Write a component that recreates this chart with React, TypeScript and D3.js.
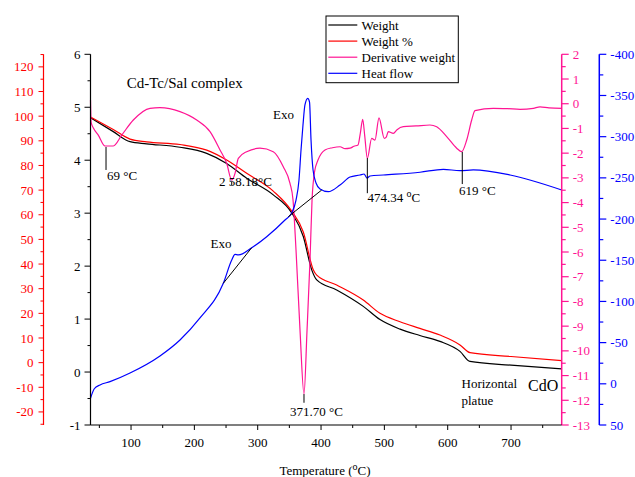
import React from 'react';
import * as d3 from 'd3';

// ---- data (temperature °C, value in its own axis units) ----
const weightData: [number, number][] = [
  [36, 4.8], [72, 4.54], [98.4, 4.35], [124.7, 4.31], [177.3, 4.245], [219.5, 4.13],
  [251, 3.94], [282.6, 3.66], [324.6, 3.345], [353.7, 3.005], [372, 2.56], [385.3, 1.93],
  [393.2, 1.74], [424.7, 1.55], [466.7, 1.24], [493.1, 0.99], [524.7, 0.81], [556, 0.69],
  [587.8, 0.58], [619.4, 0.39], [635.2, 0.2], [700, 0.13], [780, 0.06],
];
const weightPctData: [number, number][] = [
  [36, 99.7], [72, 94.6], [98.4, 90.7], [124.7, 89.6], [177.3, 88.5], [219.5, 86.2],
  [251, 82.2], [282.6, 76.8], [324.6, 69.6], [353.7, 61.5], [372, 53.0], [387.9, 37.6],
  [393.2, 35.5], [424.7, 31.5], [466.7, 25.4], [493.1, 20.0], [524.7, 16.6], [556, 13.9],
  [587.8, 11.2], [619.4, 7.2], [635.2, 4.05], [700, 2.5], [780, 0.8],
];
const derivData: [number, number][] = [
  [36, 0.15], [37, -0.75], [41, -1.0], [48.3, -1.27], [58.9, -1.71], [72, -1.71], [85.3, -1.27],
  [103.6, -0.66], [130, -0.185], [145.7, -0.16], [177.3, -0.32], [203.7, -0.66], [224.7, -1.13],
  [240.5, -1.87], [251, -2.41], [259, -3.09], [264.2, -2.82], [269.4, -2.21], [282.6, -1.94],
  [303.6, -1.8], [324.6, -1.94], [340.4, -2.55], [351, -3.22], [355.8, -3.9], [360.5, -5.92],
  [366.8, -9.16], [373.1, -11.75], [377.9, -9.16], [382.6, -6.32], [385.8, -3.9], [389.7, -2.76],
  [395.2, -2.28], [406.2, -1.87], [418, -1.78], [430, -1.74], [438, -1.82], [445.8, -1.8],
  [452, -1.72], [458.4, -1.67], [462, -1.2], [465.8, -0.63], [469, -1.3], [473.1, -2.21],
  [480, -1.4], [485.2, -1.47], [491.5, -0.57], [499.9, -1.4], [503, -1.35], [506.2, -1.13],
  [514.1, -1.2], [520, -1.05], [529.9, -0.93], [550, -0.9], [572, -0.86], [582.6, -0.93],
  [598.4, -1.33], [614.2, -1.8], [622.1, -1.94], [630, -1.47], [637.9, -0.66], [643.1, -0.28],
  [672, -0.185], [695, -0.2], [714.2, -0.225], [735.2, -0.185], [745.8, -0.13], [760, -0.17],
  [780, -0.185],
];
const heatData: [number, number][] = [
  [36, 17.6], [42, 6], [51, 1.4], [66.8, -2.6], [98.4, -13.1], [145.7, -33.8], [177.3, -53.2],
  [208.9, -79.9], [245.7, -122], [259, -150.3], [264.2, -157.2], [269.4, -156.4], [290.5, -165.2],
  [314.2, -178.6], [343.1, -198.9], [353.7, -207.4], [360.5, -223.1], [365.2, -247.4],
  [368.4, -283.8], [371.5, -314.2], [374.6, -338.5], [379, -346.6], [381.8, -342.1], [384.2, -296],
  [387.4, -259.6], [392.1, -243.8], [398.4, -236.5], [411.5, -233.2], [430, -241.3],
  [445.8, -251], [461.6, -253.5], [467.9, -254.7], [472.6, -249.8], [477.4, -252.3],
  [498.3, -253.5], [556.3, -256.8], [593.1, -260.4], [619.4, -258.7], [640.4, -259.6],
  [698.5, -253.5], [780, -235.3],
];
// onset tangents (in heat-flow units)
const tangentLines: [number, number][][] = [
  [[245.7, -122], [290.5, -165.2]],
  [[348.3, -202.9], [401.1, -235.3]],
];
// peak leader lines (derivative units)
const peakMarkers = [
  { t: 60.5, from: -1.75, to: -2.68 },
  { t: 259, from: -3.15, to: -3.3 },
  { t: 373.1, from: -11.75, to: -12.1 },
  { t: 473.1, from: -2.2, to: -3.62 },
  { t: 623, from: -1.95, to: -3.25 },
];

const xTicks = [100, 200, 300, 400, 500, 600, 700];
const weightTicks = [-1, 0, 1, 2, 3, 4, 5, 6];
const pctTicks = [-20, -10, 0, 10, 20, 30, 40, 50, 60, 70, 80, 90, 100, 110, 120];
const derivTicks = [2, 1, 0, -1, -2, -3, -4, -5, -6, -7, -8, -9, -10, -11, -12, -13];
const heatTicks = [-400, -350, -300, -250, -200, -150, -100, -50, 0, 50];
const legendLabels = ['Weight', 'Weight %', 'Derivative weight', 'Heat flow'];

const BLACK = '#000';
const RED = '#ff0000';
const PINK = '#ff1493';
const BLUE = '#0000ff';
const FONT = '"Liberation Serif", "Times New Roman", serif';

export default function App() {
  const left = 90.5, right = 561.7, top = 54.3, bottom = 425;
  const x = d3.scaleLinear().domain([36, 780]).range([left, right]);
  const yW = d3.scaleLinear().domain([-1, 6]).range([bottom, top]);
  const yR = d3.scaleLinear().domain([-25.3, 125.1]).range([bottom, top]);
  const yD = d3.scaleLinear().domain([-13, 2]).range([bottom, top]);
  const yH = d3.scaleLinear().domain([50, -400]).range([bottom, top]);

  const mk = (ys: d3.ScaleLinear<number, number>) =>
    d3.line<[number, number]>().x(d => x(d[0])).y(d => ys(d[1])).curve(d3.curveMonotoneX);

  const redX = 43.5, pinkX = right, blueX = 599.3;

  const xMinor = d3.range(50, 780, 50);
  const wMinor = d3.range(-1, 6.01, 0.5);
  const rMinor = d3.range(-25, 125.1, 5);
  const dMinor = d3.range(-13, 2.01, 0.5);
  const hMinor = d3.range(-400, 50.1, 25);

  const colors = [BLACK, RED, PINK, BLUE];

  return (
    <svg width={635} height={477} style={{ position: 'absolute', left: 0, top: 0, background: '#fff' }}
      fontFamily={FONT}>
      <rect width={635} height={477} fill="#fff" />

      {/* curves */}
      <path d={mk(yW)(weightData) || ''} fill="none" stroke={BLACK} strokeWidth={1.2} />
      <path d={mk(yR)(weightPctData) || ''} fill="none" stroke={RED} strokeWidth={1.2} />
      <path d={mk(yD)(derivData) || ''} fill="none" stroke={PINK} strokeWidth={1.2} />
      <path d={mk(yH)(heatData) || ''} fill="none" stroke={BLUE} strokeWidth={1.2} />

      {tangentLines.map((l, i) => (
        <line key={'tg' + i} x1={x(l[0][0])} y1={yH(l[0][1])} x2={x(l[1][0])} y2={yH(l[1][1])}
          stroke={BLACK} strokeWidth={1} />
      ))}
      {peakMarkers.map((m, i) => (
        <line key={'pm' + i} x1={x(m.t)} x2={x(m.t)} y1={yD(m.from)} y2={yD(m.to)} stroke={BLACK} strokeWidth={1} />
      ))}

      {/* black weight axis */}
      <line x1={left} x2={left} y1={top} y2={bottom} stroke={BLACK} strokeWidth={1.2} />
      {wMinor.map(v => (
        <line key={'wm' + v} x1={left} x2={left - (Number.isInteger(v) ? 6 : 3)} y1={yW(v)} y2={yW(v)} stroke={BLACK} />
      ))}
      {weightTicks.map(v => (
        <text key={'wt' + v} x={left - 10} y={yW(v)} dy="0.35em" textAnchor="end" fontSize={13} fill={BLACK}>{String(v)}</text>
      ))}

      {/* red weight % axis */}
      <line x1={redX} x2={redX} y1={top} y2={bottom} stroke={RED} strokeWidth={1.2} />
      {rMinor.map(v => (
        <line key={'rm' + v} x1={redX} x2={redX - (v % 10 === 0 ? 5 : 3)} y1={yR(v)} y2={yR(v)} stroke={RED} />
      ))}
      {pctTicks.map(v => (
        <text key={'rt' + v} x={redX - 10} y={yR(v)} dy="0.35em" textAnchor="end" fontSize={13} fill={RED}>{String(v)}</text>
      ))}

      {/* pink derivative axis */}
      <line x1={pinkX} x2={pinkX} y1={top} y2={bottom} stroke={PINK} strokeWidth={1.5} />
      {dMinor.map(v => (
        <line key={'dm' + v} x1={pinkX} x2={pinkX + (Number.isInteger(v) ? 7 : 4)} y1={yD(v)} y2={yD(v)} stroke={PINK} strokeWidth={1.2} />
      ))}
      {derivTicks.map(v => (
        <text key={'dt' + v} x={pinkX + 11} y={yD(v)} dy="0.35em" textAnchor="start" fontSize={13} fill={PINK}>{String(v)}</text>
      ))}

      {/* blue heat flow axis */}
      <line x1={blueX} x2={blueX} y1={top} y2={bottom} stroke={BLUE} strokeWidth={1.5} />
      {hMinor.map(v => (
        <line key={'hm' + v} x1={blueX} x2={blueX + (v % 50 === 0 ? 7 : 4)} y1={yH(v)} y2={yH(v)} stroke={BLUE} strokeWidth={1.2} />
      ))}
      {heatTicks.map(v => (
        <text key={'ht' + v} x={blueX + 11} y={yH(v)} dy="0.35em" textAnchor="start" fontSize={13} fill={BLUE}>{String(v)}</text>
      ))}

      {/* x axis */}
      <line x1={left} x2={right} y1={bottom} y2={bottom} stroke={BLACK} strokeWidth={1.2} />
      {xMinor.map(v => (
        <line key={'xm' + v} x1={x(v)} x2={x(v)} y1={bottom} y2={bottom + (v % 100 === 0 ? 5 : 3)} stroke={BLACK} />
      ))}
      {xTicks.map(v => (
        <text key={'xt' + v} x={x(v)} y={447} textAnchor="middle" fontSize={13} fill={BLACK}>{String(v)}</text>
      ))}
      <text x={325} y={475} textAnchor="middle" fontSize={13} fill={BLACK}>
        Temperature (<tspan fontSize={10} dy={-5}>o</tspan><tspan dy={5}>C)</tspan>
      </text>

      {/* annotations */}
      <text x={126.7} y={88} fontSize={15} fill={BLACK}>Cd-Tc/Sal complex</text>
      <text x={107} y={180} fontSize={13} fill={BLACK}>69 °C</text>
      <text x={219} y={186} fontSize={13} fill={BLACK}>2 58.18°C</text>
      <text x={273} y={119} fontSize={13} fill={BLACK}>Exo</text>
      <text x={210.5} y={248} fontSize={13} fill={BLACK}>Exo</text>
      <text x={290} y={416} fontSize={13} fill={BLACK}>371.70 °C</text>
      <text x={367.5} y={202} fontSize={13} fill={BLACK}>
        474.34 <tspan fontSize={10} dy={-5}>o</tspan><tspan dy={5}>C</tspan>
      </text>
      <text x={459} y={195} fontSize={13} fill={BLACK}>619 °C</text>
      <text x={461.5} y={388} fontSize={13} fill={BLACK}>Horizontal</text>
      <text x={461.5} y={405} fontSize={13} fill={BLACK}>platue</text>
      <text x={528} y={391} fontSize={16} fill={BLACK}>CdO</text>

      {/* legend */}
      <rect x={326} y={16} width={132.3} height={66.7} fill="#fff" stroke={BLACK} strokeWidth={1} />
      {legendLabels.map((lab, i) => {
        const yy = 25 + i * 16.1;
        return (
          <g key={'lg' + i}>
            <line x1={328.3} x2={357.3} y1={yy} y2={yy} stroke={colors[i]} strokeWidth={1.2} />
            <text x={361.5} y={yy} dy="0.35em" fontSize={13} fill={BLACK}>{lab}</text>
          </g>
        );
      })}
    </svg>
  );
}
